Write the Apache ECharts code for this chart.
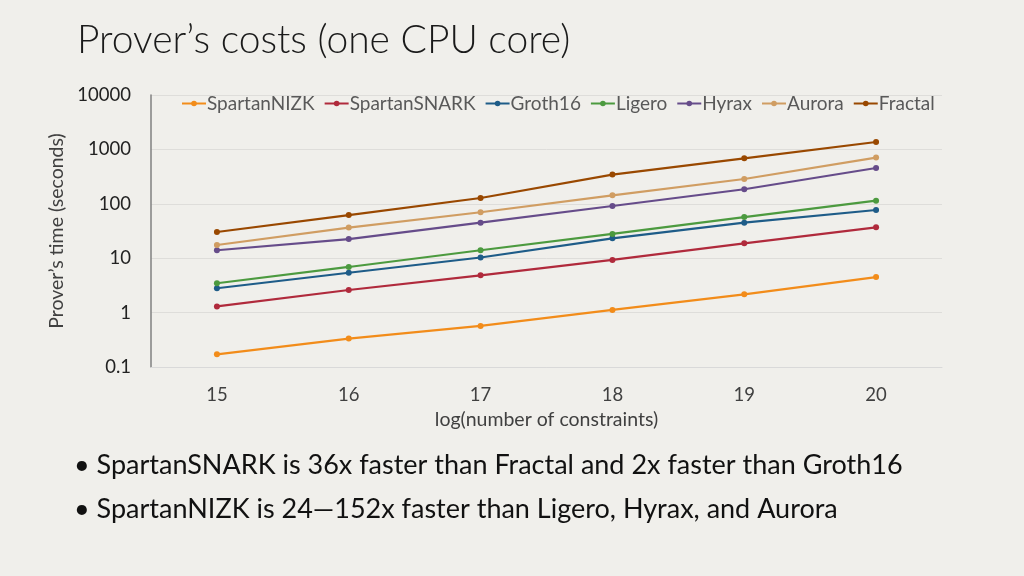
<!DOCTYPE html>
<html><head><meta charset="utf-8">
<script src="https://cdn.jsdelivr.net/npm/echarts@6/dist/echarts.min.js"></script>
<style>html,body{margin:0;padding:0;background:#F0EFEB;}#c{width:1024px;height:576px;}</style>
</head><body><div id="c"></div>
<script>
const categories = ['15','16','17','18','19','20'];
const spartanNIZK  = [0.171, 0.333, 0.57, 1.12, 2.17, 4.5];
const spartanSNARK = [1.3, 2.6, 4.85, 9.3, 18.8, 37];
const groth16      = [2.8, 5.4, 10.3, 23.2, 45, 77];
const ligero       = [3.46, 6.9, 14, 27.9, 57, 114];
const hyrax        = [14, 22.5, 45, 91, 185, 455];
const aurora       = [17.5, 36.5, 70, 143, 286, 707];
const fractal      = [30.3, 62, 128, 344, 686, 1368];
const seriesNames = ['SpartanNIZK','SpartanSNARK','Groth16','Ligero','Hyrax','Aurora','Fractal'];
const seriesData = [spartanNIZK, spartanSNARK, groth16, ligero, hyrax, aurora, fractal];
const colors = ['#F28C1A','#B02A3C','#1E5C88','#4C9A3F','#664C8A','#D09D62','#994800'];
const titleText = 'Prover’s costs (one CPU core)';
const bullets = ['SpartanSNARK is 36x faster than Fractal and 2x faster than Groth16',
                 'SpartanNIZK is 24—152x faster than Ligero, Hyrax, and Aurora'];
const font = 'Lato, "Open Sans", sans-serif';

const chart = echarts.init(document.getElementById('c'));
chart.setOption({
  backgroundColor: '#F0EFEB',
  animation: false,
  color: colors,
  title: { text: titleText, left: 72, top: 16,
    textStyle: { fontFamily: font, fontWeight: 300, fontSize: 39, color: '#1a1a1a' } },
  legend: { data: seriesNames, top: 89, left: 176, itemGap: 9, itemWidth: 24, itemHeight: 7,
    textStyle: { fontFamily: font, fontSize: 19, color: '#595959', padding: [0,0,0,-4] } },
  grid: { left: 151, right: 82, top: 95, bottom: 209, containLabel: false },
  xAxis: { type: 'category', data: categories, boundaryGap: true,
    name: 'log(number of constraints)', nameLocation: 'middle', nameGap: 43,
    nameTextStyle: { fontFamily: font, fontSize: 19.5, color: '#404040' },
    axisLine: { show: true, lineStyle: { color: '#D9D9D9' } }, axisTick: { show: false },
    axisLabel: { fontFamily: font, fontSize: 18.5, color: '#404040', margin: 19 } },
  yAxis: { type: 'log', logBase: 10, min: 0.1, max: 10000,
    name: 'Prover’s time (seconds)', nameLocation: 'middle', nameGap: 81, nameRotate: 90,
    nameTextStyle: { fontFamily: font, fontSize: 19.5, color: '#404040' },
    axisLine: { show: true, lineStyle: { color: '#808080', width: 1.5 } }, axisTick: { show: false },
    splitLine: { lineStyle: { color: '#DEDDDA' } },
    axisLabel: { fontFamily: font, fontSize: 18.5, color: '#222', margin: 20,
      formatter: v => String(v) } },
  series: seriesNames.map((n, i) => ({
    name: n, type: 'line', data: seriesData[i], symbol: 'circle', symbolSize: 6,
    lineStyle: { width: 2.2 }, itemStyle: { color: colors[i] }
  })),
  graphic: bullets.map((t, i) => ({
    type: 'text', left: 74, top: 452 + i * 44,
    style: { text: '• ' + t, fontFamily: font, fontSize: 27, fill: '#111' }
  }))
});
</script></body></html>
